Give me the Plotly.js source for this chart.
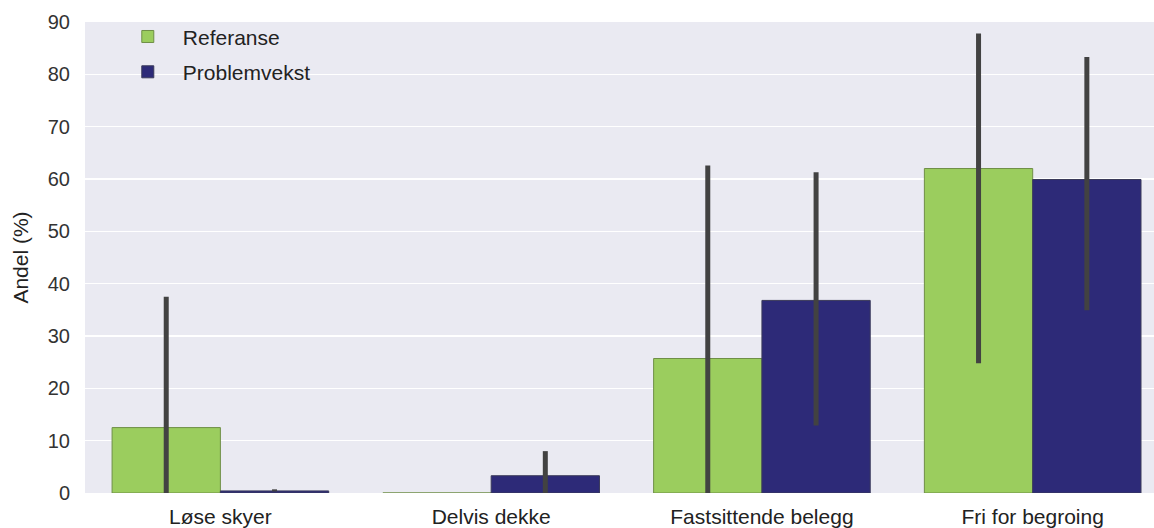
<!DOCTYPE html>
<html>
<head>
<meta charset="utf-8">
<script src="https://cdn.plot.ly/plotly-3.0.1.min.js"></script>
<style>html,body{margin:0;padding:0;background:#fff;}#chart{width:1154px;height:528px;}</style>
</head>
<body>
<div id="chart"></div>
<script>
const categories = ["Løse skyer", "Delvis dekke", "Fastsittende belegg", "Fri for begroing"];
const referanse = [12.5, 0, 25.7, 62.0];
const referanseLow = [0, 0, 0, 24.8];
const referanseHigh = [37.5, 0, 62.6, 87.8];
const problemvekst = [0.4, 3.3, 36.8, 59.9];
const problemvekstLow = [0.3, 0, 12.9, 34.9];
const problemvekstHigh = [0.7, 8.0, 61.3, 83.3];
const yTicks = [0, 10, 20, 30, 40, 50, 60, 70, 80, 90];

function errs(vals, lo, hi) {
  return {
    type: 'data', symmetric: false,
    array: hi.map((h, i) => h - vals[i]),
    arrayminus: lo.map((l, i) => vals[i] - l),
    color: '#424242', thickness: 5, width: 0
  };
}

const traces = [
  {
    type: 'bar', name: 'Referanse', legendgroup: 'a', x: categories.map((c, i) => i), y: referanse,
    marker: {color: '#9BCD5E', line: {color: '#6f8f47', width: 1}},
    error_y: errs(referanse, referanseLow, referanseHigh),
    hoverinfo: 'y'
  },
  {
    type: 'bar', name: 'Problemvekst', legendgroup: 'b', x: categories.map((c, i) => i), y: problemvekst,
    marker: {color: '#2D2A78', line: {color: '#3a3a5a', width: 1}},
    error_y: errs(problemvekst, problemvekstLow, problemvekstHigh),
    hoverinfo: 'y'
  }
];

const layout = {
  width: 1154, height: 528,
  margin: {l: 85, r: 0, t: 22, b: 35},
  paper_bgcolor: '#ffffff',
  plot_bgcolor: '#EAEAF2',
  barmode: 'group', bargap: 0.2, bargroupgap: 0,
  font: {family: 'Liberation Sans, Arial, sans-serif', color: '#333333', size: 20},
  xaxis: {
    range: [-0.5, 3.448], tickvals: [0, 1, 2, 3], ticktext: categories,
    showgrid: false, zeroline: false, showline: false, ticks: '',
    tickfont: {size: 21, color: '#222222'}, ticklabelstandoff: 9, fixedrange: true
  },
  yaxis: {
    range: [0, 90], tickvals: yTicks, showgrid: true, gridcolor: '#ffffff', gridwidth: 1.5,
    zeroline: false, showline: false, ticks: '', ticklabelstandoff: 14,
    tickfont: {size: 20, color: '#333333'},
    title: {text: 'Andel (%)', font: {size: 21, color: '#222222'}, standoff: 13},
    fixedrange: true
  },
  legend: {
    x: 0.026, y: 1.012, xanchor: 'left', yanchor: 'top',
    bgcolor: 'rgba(0,0,0,0)', font: {size: 21, color: '#222222'},
    itemwidth: 60, tracegroupgap: 5
  },
  showlegend: true
};

Plotly.newPlot('chart', traces, layout, {displayModeBar: false, staticPlot: true});
</script>
</body>
</html>
